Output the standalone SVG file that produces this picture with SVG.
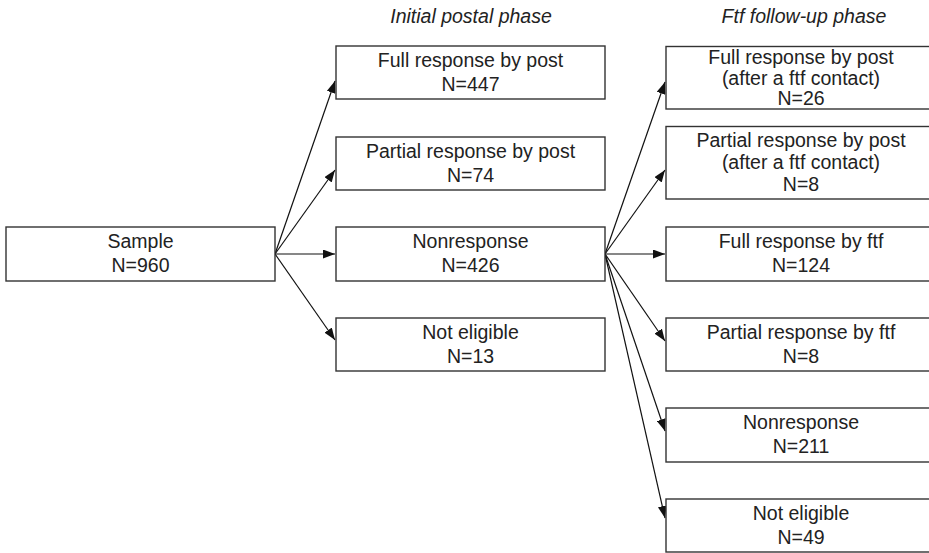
<svg xmlns="http://www.w3.org/2000/svg" width="929" height="553" viewBox="0 0 929 553">
<defs>
<marker id="ah" markerUnits="userSpaceOnUse" markerWidth="12" markerHeight="9" refX="12" refY="4.5" orient="auto">
<path d="M0,0 L12,4.5 L0,9 z" fill="#111"/>
</marker>
<style>
.box{fill:#fff;stroke:#333;stroke-width:1.4}
.t{font-family:"Liberation Sans",Arial,sans-serif;font-size:19.5px;fill:#222;text-anchor:middle}
.h{font-family:"Liberation Sans",Arial,sans-serif;font-size:19.5px;font-style:italic;fill:#222;text-anchor:middle}
.c{stroke:#111;stroke-width:1.2;fill:none;marker-end:url(#ah)}
</style>
</defs>
<rect width="929" height="553" fill="#fff"/>
<text class="h" x="471" y="23">Initial postal phase</text>
<text class="h" x="804" y="23">Ftf follow-up phase</text>
<g id="connectors">
<line class="c" x1="275" y1="254" x2="335" y2="81"/>
<line class="c" x1="275" y1="254" x2="335" y2="170"/>
<line class="c" x1="275" y1="254" x2="335" y2="254"/>
<line class="c" x1="275" y1="254" x2="335" y2="340"/>
<line class="c" x1="605" y1="254" x2="665" y2="82"/>
<line class="c" x1="605" y1="254" x2="665" y2="170"/>
<line class="c" x1="605" y1="254" x2="665" y2="254"/>
<line class="c" x1="605" y1="254" x2="665" y2="341"/>
<line class="c" x1="605" y1="254" x2="665" y2="431"/>
<line class="c" x1="605" y1="254" x2="665" y2="518"/>
</g>
<g id="sample">
<rect class="box" x="6" y="227" width="269" height="54"/>
<text class="t" x="140.5" y="248">Sample</text>
<text class="t" x="140.5" y="271.5">N=960</text>
</g>
<g id="full-post">
<rect class="box" x="336" y="46" width="269" height="53"/>
<text class="t" x="470.5" y="67">Full response by post</text>
<text class="t" x="470.5" y="90.5">N=447</text>
</g>
<g id="partial-post">
<rect class="box" x="336" y="137" width="269" height="53"/>
<text class="t" x="470.5" y="158">Partial response by post</text>
<text class="t" x="470.5" y="181.5">N=74</text>
</g>
<g id="nonresponse-post">
<rect class="box" x="336" y="227" width="269" height="54"/>
<text class="t" x="470.5" y="248">Nonresponse</text>
<text class="t" x="470.5" y="271.5">N=426</text>
</g>
<g id="not-eligible-post">
<rect class="box" x="336" y="318" width="269" height="53"/>
<text class="t" x="470.5" y="339">Not eligible</text>
<text class="t" x="470.5" y="362.5">N=13</text>
</g>
<g id="full-post-ftf">
<rect class="box" x="666" y="46.5" width="270" height="62.5"/>
<text class="t" x="801" y="64">Full response by post</text>
<text class="t" x="801" y="84.5">(after a ftf contact)</text>
<text class="t" x="801" y="105">N=26</text>
</g>
<g id="partial-post-ftf">
<rect class="box" x="666" y="126.5" width="270" height="72.5"/>
<text class="t" x="801" y="147">Partial response by post</text>
<text class="t" x="801" y="169">(after a ftf contact)</text>
<text class="t" x="801" y="191">N=8</text>
</g>
<g id="full-ftf">
<rect class="box" x="666" y="227" width="270" height="54"/>
<text class="t" x="801" y="248">Full response by ftf</text>
<text class="t" x="801" y="271.5">N=124</text>
</g>
<g id="partial-ftf">
<rect class="box" x="666" y="318" width="270" height="53"/>
<text class="t" x="801" y="339">Partial response by ftf</text>
<text class="t" x="801" y="362.5">N=8</text>
</g>
<g id="nonresponse-ftf">
<rect class="box" x="666" y="408" width="270" height="54"/>
<text class="t" x="801" y="429">Nonresponse</text>
<text class="t" x="801" y="452.5">N=211</text>
</g>
<g id="not-eligible-ftf">
<rect class="box" x="666" y="499" width="270" height="53"/>
<text class="t" x="801" y="520">Not eligible</text>
<text class="t" x="801" y="543.5">N=49</text>
</g>
</svg>
